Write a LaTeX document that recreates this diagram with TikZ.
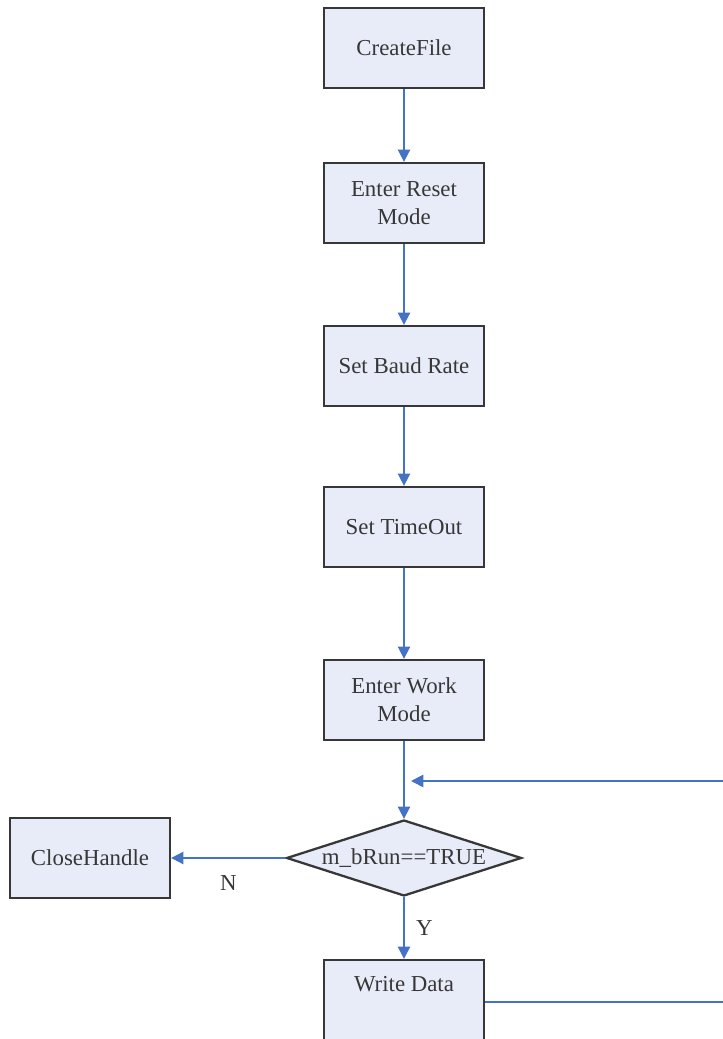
\documentclass[tikz,border=0pt]{standalone}
\usepackage{fontspec}
\setmainfont{Liberation Serif}
\usetikzlibrary{arrows.meta,shapes.geometric}
\definecolor{flowblue}{RGB}{68,114,196}
\definecolor{boxfill}{RGB}{232,236,248}
\definecolor{boxline}{RGB}{55,55,55}
\begin{document}
\begin{tikzpicture}[scale=1,
    box/.style={draw=boxline, line width=1.3pt, fill=boxfill, minimum width=3.2cm, minimum height=1.6cm, align=center, text=boxline, font=\fontsize{13}{16}\selectfont},
    cond/.style={diamond, draw=boxline, line width=1.3pt, fill=boxfill, aspect=3.1, minimum width=4.7cm, minimum height=1.52cm, inner sep=0pt, text=boxline, font=\fontsize{13}{16}\selectfont},
    flow/.style={draw=flowblue, line width=1pt, -{Triangle[length=7pt,width=7pt]}},
    tag/.style={text=boxline, font=\fontsize{13}{16}\selectfont}]
      \useasboundingbox (0,0) rectangle (14.46,20.78);
      \clip (0,0) rectangle (14.46,20.78);
      \node[box] (create) at (8.08,19.82) {CreateFile};
      \node[box] (reset) at (8.08,16.72) {Enter Reset\\Mode};
      \node[box] (baud) at (8.08,13.46) {Set Baud Rate};
      \node[box] (timeout) at (8.08,10.24) {Set TimeOut};
      \node[box] (work) at (8.08,6.78) {Enter Work\\Mode};
      \node[cond] (run) at (8.08,3.62) {m\_bRun==TRUE};
      \node[box] (close) at (1.8,3.62) {CloseHandle};
      \node[box] (write) at (8.08,0.78) {Write Data\\[2pt]~};
      \coordinate (loopin) at (8.22,5.16);
      \coordinate (r1) at (14.7,0.74);
      \coordinate (r2) at (14.7,5.16);
      \draw[flow] (create) -- (reset);
      \draw[flow] (reset) -- (baud);
      \draw[flow] (baud) -- (timeout);
      \draw[flow] (timeout) -- (work);
      \draw[flow] (work) -- (run);
      \draw[flow] (run) -- (close) node[tag, midway, below=6pt]{N};
      \draw[flow] (run) -- (write) node[tag, midway, right=3pt]{Y};
      \draw[flow] (write.east |- r1) -- (r1) -- (r2) -- (loopin);
\end{tikzpicture}
\end{document}
